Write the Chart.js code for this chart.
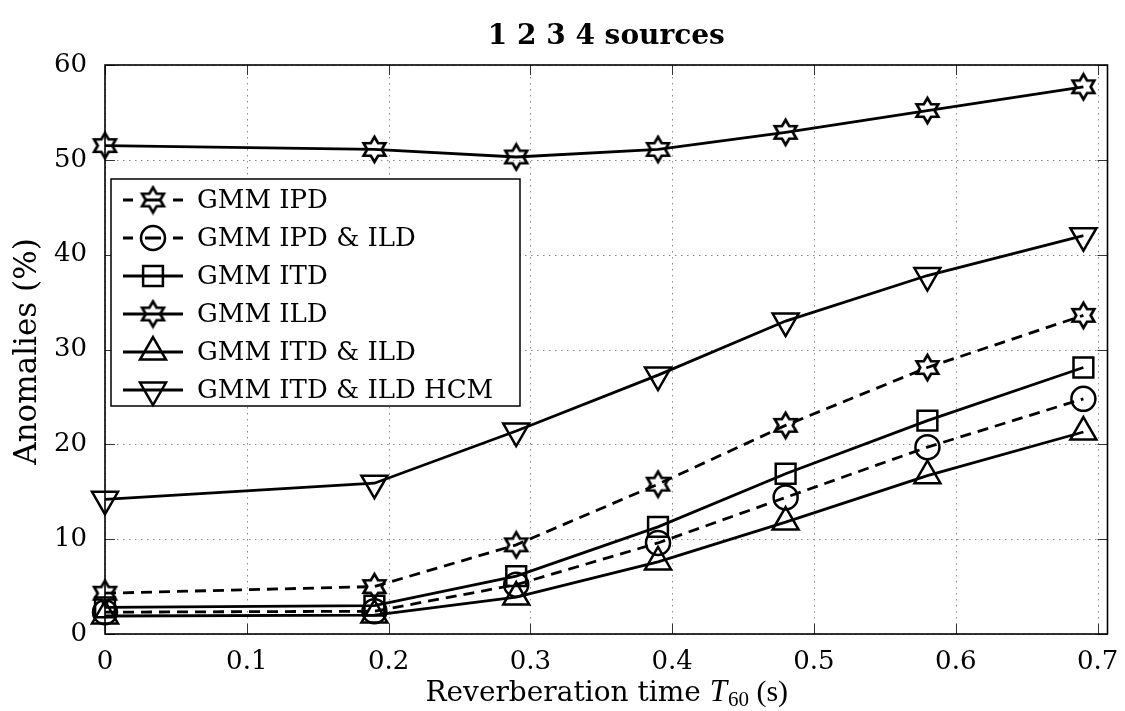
<!DOCTYPE html>
<html>
  <head>
    <meta charset="utf-8" />
    <script src="https://cdn.jsdelivr.net/npm/chart.js@4/dist/chart.umd.min.js"></script>
    <style>
      body { margin: 0; background: white; }
    </style>
  </head>
  <body>
    <canvas id="chart" width="1125" height="711"></canvas>
    <script type="text/javascript">
      // values
      const t60 = [0, 0.19, 0.29, 0.39, 0.48, 0.58, 0.69];
      const gmmIpd = [4.3, 5.0, 9.4, 15.8, 22.0, 28.1, 33.6];
      const gmmIpdIld = [2.3, 2.4, 5.2, 9.6, 14.4, 19.7, 24.8];
      const gmmItd = [2.8, 3.0, 6.1, 11.3, 16.9, 22.5, 28.1];
      const gmmIld = [51.5, 51.1, 50.3, 51.1, 52.9, 55.2, 57.7];
      const gmmItdIld = [1.9, 2.0, 3.9, 7.6, 11.8, 16.7, 21.3];
      const gmmItdIldHcm = [14.2, 15.9, 21.4, 27.3, 33.0, 37.8, 42.0];

      const xTicks = [0, 0.1, 0.2, 0.3, 0.4, 0.5, 0.6, 0.7];
      const yTicks = [0, 10, 20, 30, 40, 50, 60];
      const labels = ["GMM IPD", "GMM IPD & ILD", "GMM ITD", "GMM ILD", "GMM ITD & ILD", "GMM ITD & ILD HCM"];

      const serif = "'DejaVu Serif', serif";

      // hexagram marker, drawn once on a small canvas
      function makeHexagram(R) {
        const c = document.createElement("canvas");
        c.width = c.height = Math.ceil(R * 2 + 6);
        const g = c.getContext("2d");
        const cx = c.width / 2, cy = c.height / 2, r = R / Math.sqrt(3);
        g.beginPath();
        for (let k = 0; k < 12; k++) {
          const a = (-90 + k * 30) * Math.PI / 180;
          const rr = k % 2 === 0 ? R : r;
          const px = cx + rr * Math.cos(a), py = cy + rr * Math.sin(a);
          k === 0 ? g.moveTo(px, py) : g.lineTo(px, py);
        }
        g.closePath();
        g.lineWidth = 2.7;
        g.lineJoin = "miter";
        g.strokeStyle = "#000";
        g.stroke();
        return c;
      }
      const hexagram = makeHexagram(12.5);

      function series(label, data, style, radius, dashed, rotation) {
        return {
          label,
          data: data.map((v, i) => ({ x: t60[i], y: v })),
          borderColor: "#000",
          borderWidth: 2.8,
          borderDash: dashed ? [11, 7] : [],
          pointStyle: style,
          pointRadius: radius,
          pointRotation: rotation || 0,
          pointBorderWidth: 2.5,
          pointBorderColor: "#000",
          pointBackgroundColor: "rgba(0,0,0,0)",
          tension: 0,
          clip: false,
          dashed,
        };
      }

      const datasets = [
        series(labels[0], gmmIpd, hexagram, 12, true),
        series(labels[1], gmmIpdIld, "circle", 12, true),
        series(labels[2], gmmItd, "rect", 14, false),
        series(labels[3], gmmIld, hexagram, 12, false),
        series(labels[4], gmmItdIld, "triangle", 15, false),
        series(labels[5], gmmItdIldHcm, "triangle", 15, false, 180),
      ];

      // grid, box, inward ticks, titles and legend (matlab look)
      const frame = {
        id: "frame",
        beforeDatasetsDraw(chart) {
          const { ctx, chartArea: a, scales } = chart;
          const xs = scales.x, ys = scales.y;
          ctx.save();
          ctx.strokeStyle = "#8a8a8a";
          ctx.lineWidth = 1;
          ctx.setLineDash([1.5, 4.5]);
          xTicks.forEach((v) => {
            const px = Math.round(xs.getPixelForValue(v)) + 0.5;
            ctx.beginPath(); ctx.moveTo(px, a.top); ctx.lineTo(px, a.bottom); ctx.stroke();
          });
          yTicks.forEach((v) => {
            const py = Math.round(ys.getPixelForValue(v)) + 0.5;
            ctx.beginPath(); ctx.moveTo(a.left, py); ctx.lineTo(a.right, py); ctx.stroke();
          });
          ctx.setLineDash([]);
          ctx.strokeStyle = "#333";
          xTicks.forEach((v) => {
            const px = Math.round(xs.getPixelForValue(v)) + 0.5;
            ctx.beginPath();
            ctx.moveTo(px, a.bottom); ctx.lineTo(px, a.bottom - 10);
            ctx.moveTo(px, a.top); ctx.lineTo(px, a.top + 10);
            ctx.stroke();
          });
          yTicks.forEach((v) => {
            const py = Math.round(ys.getPixelForValue(v)) + 0.5;
            ctx.beginPath();
            ctx.moveTo(a.left, py); ctx.lineTo(a.left + 10, py);
            ctx.moveTo(a.right, py); ctx.lineTo(a.right - 10, py);
            ctx.stroke();
          });
          ctx.strokeStyle = "#000";
          ctx.lineWidth = 1.6;
          ctx.strokeRect(a.left, a.top, a.right - a.left, a.bottom - a.top);
          ctx.restore();
        },
        afterDatasetsDraw(chart) {
          const { ctx, chartArea: a } = chart;
          const midX = (a.left + a.right) / 2;
          ctx.save();
          ctx.fillStyle = "#000";

          // title
          ctx.font = "bold 28px " + serif;
          ctx.textAlign = "center";
          ctx.textBaseline = "middle";
          ctx.fillText("1 2 3 4 sources", midX, 37);

          // y title
          ctx.save();
          ctx.translate(28, (a.top + a.bottom) / 2 + 2);
          ctx.rotate(-Math.PI / 2);
          ctx.font = "31px " + serif;
          ctx.fillText("Anomalies (%)", 0, 0);
          ctx.restore();

          // x title with T_60
          const parts = [
            { t: "Reverberation time ", f: "28px " + serif, dy: 0 },
            { t: "T", f: "italic 31px 'Liberation Serif', serif", dy: 0 },
            { t: "60", f: "21px 'Liberation Serif', serif", dy: 5 },
            { t: " (s)", f: "30px 'Liberation Serif', serif", dy: 0 },
          ];
          let total = 0;
          parts.forEach((p) => { ctx.font = p.f; p.w = ctx.measureText(p.t).width; total += p.w; });
          let cx = midX - total / 2;
          ctx.textAlign = "left";
          ctx.textBaseline = "alphabetic";
          parts.forEach((p) => {
            ctx.font = p.f;
            ctx.fillText(p.t, cx, 701 + p.dy);
            cx += p.w + (p.t === "T" ? 1 : 0);
          });

          // legend
          const bx = 111, by = 179, bw = 409, bh = 227, row = 38, first = 200;
          ctx.fillStyle = "#fff";
          ctx.fillRect(bx, by, bw, bh);
          ctx.strokeStyle = "#000";
          ctx.lineWidth = 1.5;
          ctx.strokeRect(bx, by, bw, bh);
          chart.data.datasets.forEach((ds, i) => {
            const y = first + i * row;
            const cxm = 153;
            ctx.strokeStyle = "#000";
            ctx.lineWidth = 2.8;
            ctx.beginPath();
            if (ds.dashed) {
              [[123, 133], [145, 161], [173, 183]].forEach(([s, e]) => { ctx.moveTo(s, y); ctx.lineTo(e, y); });
            } else {
              ctx.moveTo(123, y); ctx.lineTo(183, y);
            }
            ctx.stroke();
            ctx.fillStyle = "rgba(0,0,0,0)";
            ctx.lineWidth = 2.5;
            Chart.helpers.drawPoint(ctx, {
              pointStyle: ds.pointStyle,
              radius: ds.pointRadius,
              rotation: ds.pointRotation,
              borderWidth: 2.5,
            }, cxm, y);
            ctx.fillStyle = "#000";
            ctx.font = "26px " + serif;
            ctx.textAlign = "left";
            ctx.textBaseline = "middle";
            ctx.fillText(ds.label, 197, y + 1);
          });
          ctx.restore();
        },
      };

      const ctx = document.getElementById("chart").getContext("2d");
      new Chart(ctx, {
        type: "line",
        data: { datasets },
        plugins: [frame],
        options: {
          responsive: false,
          animation: false,
          layout: { padding: { top: 65, right: 17, left: 0, bottom: 0 } },
          plugins: { legend: { display: false }, title: { display: false }, tooltip: { enabled: false } },
          scales: {
            x: {
              type: "linear",
              min: 0,
              max: 0.707,
              grid: { display: false },
              border: { display: false },
              afterBuildTicks: (s) => { s.ticks = xTicks.map((v) => ({ value: v })); },
              afterFit: (s) => { s.height = 77; },
              ticks: {
                padding: 5,
                maxRotation: 0,
                autoSkip: false,
                color: "#000",
                font: { family: serif, size: 26 },
                callback: (v) => String(v),
              },
            },
            y: {
              min: 0,
              max: 60,
              grid: { display: false },
              border: { display: false },
              afterBuildTicks: (s) => { s.ticks = yTicks.map((v) => ({ value: v })); },
              afterFit: (s) => { s.width = 105; },
              ticks: {
                padding: 10,
                color: "#000",
                font: { family: serif, size: 26 },
              },
            },
          },
        },
      });
    </script>
  </body>
</html>
